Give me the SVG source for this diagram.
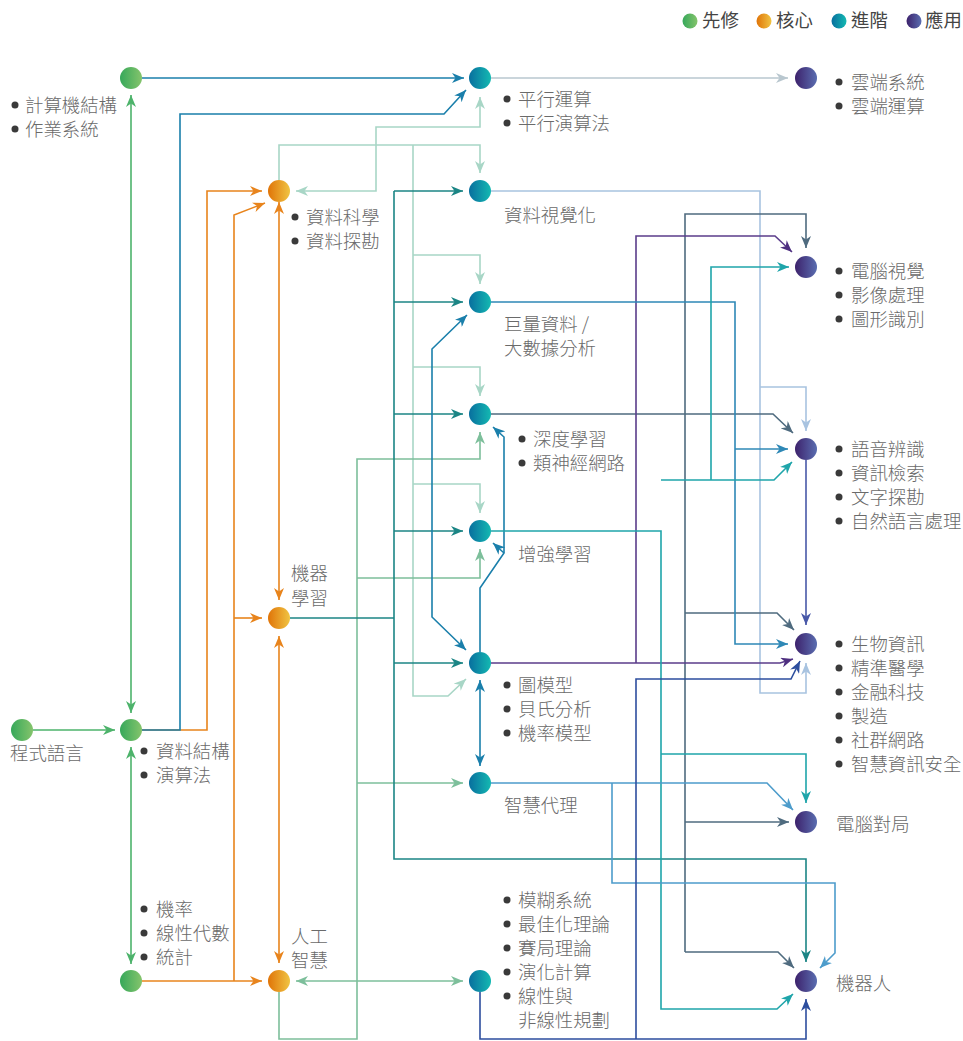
<svg xmlns="http://www.w3.org/2000/svg" width="963" height="1041" viewBox="0 0 963 1041">
  <defs>
    <linearGradient id="gGreen" x1="0" y1="0" x2="1" y2="0"><stop offset="0" stop-color="#36a85a"/><stop offset="1" stop-color="#85c46c"/></linearGradient>
    <linearGradient id="gOrange" x1="0" y1="0" x2="1" y2="0"><stop offset="0" stop-color="#e07408"/><stop offset="1" stop-color="#f0c443"/></linearGradient>
    <linearGradient id="gTeal" x1="0" y1="0" x2="1" y2="0"><stop offset="0" stop-color="#086f9e"/><stop offset="1" stop-color="#14b9b2"/></linearGradient>
    <linearGradient id="gPurple" x1="0" y1="0" x2="1" y2="0"><stop offset="0" stop-color="#3d226c"/><stop offset="1" stop-color="#5a6db0"/></linearGradient>
    <marker id="mGreen" viewBox="0 0 12 10" refX="12" refY="5" markerWidth="12" markerHeight="10" markerUnits="userSpaceOnUse" orient="auto-start-reverse"><path d="M0,0 L12,5 L0,10 L3.5,5 z" fill="#4db36b"/></marker>
    <marker id="mOrange" viewBox="0 0 12 10" refX="12" refY="5" markerWidth="12" markerHeight="10" markerUnits="userSpaceOnUse" orient="auto-start-reverse"><path d="M0,0 L12,5 L0,10 L3.5,5 z" fill="#e8841c"/></marker>
    <marker id="mBlue" viewBox="0 0 12 10" refX="12" refY="5" markerWidth="12" markerHeight="10" markerUnits="userSpaceOnUse" orient="auto-start-reverse"><path d="M0,0 L12,5 L0,10 L3.5,5 z" fill="#1a7fab"/></marker>
    <marker id="mMint" viewBox="0 0 12 10" refX="12" refY="5" markerWidth="12" markerHeight="10" markerUnits="userSpaceOnUse" orient="auto-start-reverse"><path d="M0,0 L12,5 L0,10 L3.5,5 z" fill="#a8d6c6"/></marker>
    <marker id="mDteal" viewBox="0 0 12 10" refX="12" refY="5" markerWidth="12" markerHeight="10" markerUnits="userSpaceOnUse" orient="auto-start-reverse"><path d="M0,0 L12,5 L0,10 L3.5,5 z" fill="#1b8585"/></marker>
    <marker id="mGmint" viewBox="0 0 12 10" refX="12" refY="5" markerWidth="12" markerHeight="10" markerUnits="userSpaceOnUse" orient="auto-start-reverse"><path d="M0,0 L12,5 L0,10 L3.5,5 z" fill="#7dbf9b"/></marker>
    <marker id="mGray" viewBox="0 0 12 10" refX="12" refY="5" markerWidth="12" markerHeight="10" markerUnits="userSpaceOnUse" orient="auto-start-reverse"><path d="M0,0 L12,5 L0,10 L3.5,5 z" fill="#b9c7cf"/></marker>
    <marker id="mLblue" viewBox="0 0 12 10" refX="12" refY="5" markerWidth="12" markerHeight="10" markerUnits="userSpaceOnUse" orient="auto-start-reverse"><path d="M0,0 L12,5 L0,10 L3.5,5 z" fill="#a8c3e0"/></marker>
    <marker id="mSlate" viewBox="0 0 12 10" refX="12" refY="5" markerWidth="12" markerHeight="10" markerUnits="userSpaceOnUse" orient="auto-start-reverse"><path d="M0,0 L12,5 L0,10 L3.5,5 z" fill="#4f6b7f"/></marker>
    <marker id="mPurple" viewBox="0 0 12 10" refX="12" refY="5" markerWidth="12" markerHeight="10" markerUnits="userSpaceOnUse" orient="auto-start-reverse"><path d="M0,0 L12,5 L0,10 L3.5,5 z" fill="#4e2f80"/></marker>
    <marker id="mMblue" viewBox="0 0 12 10" refX="12" refY="5" markerWidth="12" markerHeight="10" markerUnits="userSpaceOnUse" orient="auto-start-reverse"><path d="M0,0 L12,5 L0,10 L3.5,5 z" fill="#2e88b6"/></marker>
    <marker id="mTeal" viewBox="0 0 12 10" refX="12" refY="5" markerWidth="12" markerHeight="10" markerUnits="userSpaceOnUse" orient="auto-start-reverse"><path d="M0,0 L12,5 L0,10 L3.5,5 z" fill="#1fa5aa"/></marker>
    <marker id="mIndigo" viewBox="0 0 12 10" refX="12" refY="5" markerWidth="12" markerHeight="10" markerUnits="userSpaceOnUse" orient="auto-start-reverse"><path d="M0,0 L12,5 L0,10 L3.5,5 z" fill="#4858a8"/></marker>
    <marker id="mSky" viewBox="0 0 12 10" refX="12" refY="5" markerWidth="12" markerHeight="10" markerUnits="userSpaceOnUse" orient="auto-start-reverse"><path d="M0,0 L12,5 L0,10 L3.5,5 z" fill="#4d9ccb"/></marker>
    <marker id="mNavy" viewBox="0 0 12 10" refX="12" refY="5" markerWidth="12" markerHeight="10" markerUnits="userSpaceOnUse" orient="auto-start-reverse"><path d="M0,0 L12,5 L0,10 L3.5,5 z" fill="#2d4e9e"/></marker>
  </defs>
  <style>
    .t { font-family: "Noto Sans CJK TC", "Noto Sans CJK SC", sans-serif; font-size: 18.4px; font-weight: 300; fill: #6a6a6a; }
    .lg { font-family: "Noto Sans CJK TC", "Noto Sans CJK SC", sans-serif; font-size: 18.4px; fill: #444444; }
    .b { fill: #3a3a3a; }
    .c { fill: none; stroke-width: 1.6; stroke-linejoin: miter; }
    .green { stroke: #4db36b; }
    .orange { stroke: #e8841c; }
    .blue { stroke: #1a7fab; }
    .mint { stroke: #a8d6c6; }
    .dteal { stroke: #1b8585; }
    .gmint { stroke: #7dbf9b; }
    .gray { stroke: #b9c7cf; }
    .lblue { stroke: #a8c3e0; }
    .slate { stroke: #4f6b7f; }
    .purple { stroke: #5b3d8b; }
    .mblue { stroke: #2e88b6; }
    .teal { stroke: #1fa5aa; }
    .indigo { stroke: #4858a8; }
    .sky { stroke: #4d9ccb; }
    .navy { stroke: #2d4e9e; }
  </style>
  <rect width="963" height="1041" fill="#ffffff"/>

  <!-- legend -->
  <g id="legend">
    <circle cx="690" cy="21" r="7.5" fill="url(#gGreen)"/>
    <text class="lg" x="702" y="27">先修</text>
    <circle cx="764" cy="21" r="7.5" fill="url(#gOrange)"/>
    <text class="lg" x="776" y="27">核心</text>
    <circle cx="839" cy="21" r="7.5" fill="url(#gTeal)"/>
    <text class="lg" x="851" y="27">進階</text>
    <circle cx="914" cy="21" r="7.5" fill="url(#gPurple)"/>
    <text class="lg" x="925" y="27">應用</text>
  </g>

  <!-- connectors -->
  <g id="connectors">
    <!-- light tones underneath -->
    <path class="c gray" d="M491,78 H788" marker-end="url(#mGray)"/>
    <path class="c lblue" d="M491,191 H760 V693 H806 V663" marker-end="url(#mLblue)"/>
    <path class="c lblue" d="M760,387 H806 V431" marker-end="url(#mLblue)"/>

    <path class="c mint" d="M296,191 H376 V127 H480 V97" marker-start="url(#mMint)" marker-end="url(#mMint)"/>
    <path class="c mint" d="M279,180 V145 H480 V173" marker-end="url(#mMint)"/>
    <path class="c mint" d="M413,145 V696 H448 L466,679" marker-end="url(#mMint)"/>
    <path class="c mint" d="M413,255 H480 V284" marker-end="url(#mMint)"/>
    <path class="c mint" d="M413,367 H480 V396" marker-end="url(#mMint)"/>
    <path class="c mint" d="M413,484 H480 V513" marker-end="url(#mMint)"/>

    <path class="c gmint" d="M296,981 H463" marker-start="url(#mGmint)" marker-end="url(#mGmint)"/>
    <path class="c gmint" d="M279,992 V1039 H357 V459 H480 V432" marker-end="url(#mGmint)"/>
    <path class="c gmint" d="M357,578 H480 V549" marker-end="url(#mGmint)"/>
    <path class="c gmint" d="M357,783 H463" marker-end="url(#mGmint)"/>

    <!-- prerequisites -->
    <path class="c green" d="M33,730 H115" marker-end="url(#mGreen)"/>
    <path class="c green" d="M131,95 V713" marker-start="url(#mGreen)" marker-end="url(#mGreen)"/>
    <path class="c green" d="M131,747 V964" marker-start="url(#mGreen)" marker-end="url(#mGreen)"/>

    <!-- core -->
    <path class="c orange" d="M142,730 H207 V191 H262" marker-end="url(#mOrange)"/>
    <path class="c orange" d="M142,981 H262" marker-end="url(#mOrange)"/>
    <path class="c orange" d="M234,981 V215 L265,203" marker-end="url(#mOrange)"/>
    <path class="c orange" d="M234,618 H262" marker-end="url(#mOrange)"/>
    <path class="c orange" d="M279,202 V600" marker-start="url(#mOrange)" marker-end="url(#mOrange)"/>
    <path class="c orange" d="M279,636 V963" marker-start="url(#mOrange)" marker-end="url(#mOrange)"/>

    <!-- machine learning bus -->
    <path class="c dteal" d="M290,618 H394"/>
    <path class="c dteal" d="M394,191 V859 H806 V962" marker-end="url(#mDteal)"/>
    <path class="c dteal" d="M394,191 H463" marker-end="url(#mDteal)"/>
    <path class="c dteal" d="M394,302 H463" marker-end="url(#mDteal)"/>
    <path class="c dteal" d="M394,414 H463" marker-end="url(#mDteal)"/>
    <path class="c dteal" d="M394,531 H463" marker-end="url(#mDteal)"/>
    <path class="c dteal" d="M394,663 H463" marker-end="url(#mDteal)"/>

    <!-- blue links -->
    <path class="c blue" d="M142,78 H464" marker-end="url(#mBlue)"/>
    <path class="c blue" d="M142,730 H180 V114 H444 L466,90" marker-end="url(#mBlue)"/>
    <path class="c blue" d="M467,315 L432,349 V617 L466,650" marker-start="url(#mBlue)" marker-end="url(#mBlue)"/>
    <path class="c blue" d="M480,652 V588 L504,553 V437 L493,427" marker-end="url(#mBlue)"/>
    <path class="c blue" d="M504,553 L493,543" marker-end="url(#mBlue)"/>
    <path class="c blue" d="M480,680 V766" marker-start="url(#mBlue)" marker-end="url(#mBlue)"/>

    <!-- applications -->
    <path class="c slate" d="M491,414 H773 L793,433" marker-end="url(#mSlate)"/>
    <path class="c slate" d="M685,952 V214 H806 V248" marker-end="url(#mSlate)"/>
    <path class="c slate" d="M685,613 H777 L794,630" marker-end="url(#mSlate)"/>
    <path class="c slate" d="M685,822 H789" marker-end="url(#mSlate)"/>
    <path class="c slate" d="M685,952 H778 L794,968" marker-end="url(#mSlate)"/>

    <path class="c purple" d="M491,663 H780 L793,659" marker-end="url(#mPurple)"/>
    <path class="c purple" d="M636,663 V236 H775 L792,252" marker-end="url(#mPurple)"/>

    <path class="c mblue" d="M491,302 H735 V644 H788" marker-end="url(#mMblue)"/>
    <path class="c mblue" d="M735,449 H788" marker-end="url(#mMblue)"/>

    <path class="c teal" d="M491,531 H661 V1009 H777 L793,994" marker-end="url(#mTeal)"/>
    <path class="c teal" d="M661,480 H774 L792,462" marker-end="url(#mTeal)"/>
    <path class="c teal" d="M711,480 V267 H789" marker-end="url(#mTeal)"/>
    <path class="c teal" d="M661,754 H806 V803" marker-end="url(#mTeal)"/>

    <path class="c indigo" d="M806,460 V625" marker-end="url(#mIndigo)"/>

    <path class="c sky" d="M491,783 H767 L793,810" marker-end="url(#mSky)"/>
    <path class="c sky" d="M612,783 V883 H835 V953 L820,968" marker-end="url(#mSky)"/>

    <path class="c navy" d="M480,992 V1039 H806 V999" marker-end="url(#mNavy)"/>
    <path class="c navy" d="M636,1039 V679 H791 L800,661" marker-end="url(#mNavy)"/>
  </g>

  <!-- prerequisite nodes -->
  <g id="node-arch">
    <circle cx="131" cy="78" r="11" fill="url(#gGreen)"/>
    <circle class="b" cx="15" cy="105" r="3.5"/><text class="t" x="25" y="112">計算機結構</text>
    <circle class="b" cx="15" cy="129" r="3.5"/><text class="t" x="25" y="136">作業系統</text>
  </g>
  <g id="node-prog">
    <circle cx="22" cy="730" r="11" fill="url(#gGreen)"/>
    <text class="t" x="10" y="760">程式語言</text>
  </g>
  <g id="node-ds">
    <circle cx="131" cy="730" r="11" fill="url(#gGreen)"/>
    <circle class="b" cx="144" cy="751" r="3.5"/><text class="t" x="156" y="758">資料結構</text>
    <circle class="b" cx="144" cy="775" r="3.5"/><text class="t" x="156" y="782">演算法</text>
  </g>
  <g id="node-math">
    <circle cx="131" cy="981" r="11" fill="url(#gGreen)"/>
    <circle class="b" cx="144" cy="909" r="3.5"/><text class="t" x="156" y="916">機率</text>
    <circle class="b" cx="144" cy="933" r="3.5"/><text class="t" x="156" y="940">線性代數</text>
    <circle class="b" cx="144" cy="957" r="3.5"/><text class="t" x="156" y="964">統計</text>
  </g>

  <!-- core nodes -->
  <g id="node-datasci">
    <circle cx="279" cy="191" r="11" fill="url(#gOrange)"/>
    <circle class="b" cx="295" cy="217" r="3.5"/><text class="t" x="306" y="224">資料科學</text>
    <circle class="b" cx="295" cy="241" r="3.5"/><text class="t" x="306" y="248">資料探勘</text>
  </g>
  <g id="node-ml">
    <circle cx="279" cy="618" r="11" fill="url(#gOrange)"/>
    <text class="t" x="291" y="580">機器</text>
    <text class="t" x="291" y="605">學習</text>
  </g>
  <g id="node-ai">
    <circle cx="279" cy="981" r="11" fill="url(#gOrange)"/>
    <text class="t" x="291" y="943">人工</text>
    <text class="t" x="291" y="967">智慧</text>
  </g>

  <!-- advanced nodes -->
  <g id="node-parallel">
    <circle cx="480" cy="78" r="11" fill="url(#gTeal)"/>
    <circle class="b" cx="507" cy="99" r="3.5"/><text class="t" x="518" y="106">平行運算</text>
    <circle class="b" cx="507" cy="123" r="3.5"/><text class="t" x="518" y="130">平行演算法</text>
  </g>
  <g id="node-vis">
    <circle cx="480" cy="191" r="11" fill="url(#gTeal)"/>
    <text class="t" x="504" y="222">資料視覺化</text>
  </g>
  <g id="node-bigdata">
    <circle cx="480" cy="302" r="11" fill="url(#gTeal)"/>
    <text class="t" x="504" y="331">巨量資料 /</text>
    <text class="t" x="504" y="355">大數據分析</text>
  </g>
  <g id="node-dl">
    <circle cx="480" cy="414" r="11" fill="url(#gTeal)"/>
    <circle class="b" cx="522" cy="439" r="3.5"/><text class="t" x="533" y="446">深度學習</text>
    <circle class="b" cx="522" cy="463" r="3.5"/><text class="t" x="533" y="470">類神經網路</text>
  </g>
  <g id="node-rl">
    <circle cx="480" cy="531" r="11" fill="url(#gTeal)"/>
    <text class="t" x="518" y="561">增強學習</text>
  </g>
  <g id="node-graph">
    <circle cx="480" cy="663" r="11" fill="url(#gTeal)"/>
    <circle class="b" cx="507" cy="685" r="3.5"/><text class="t" x="518" y="692">圖模型</text>
    <circle class="b" cx="507" cy="709" r="3.5"/><text class="t" x="518" y="716">貝氏分析</text>
    <circle class="b" cx="507" cy="733" r="3.5"/><text class="t" x="518" y="740">機率模型</text>
  </g>
  <g id="node-agent">
    <circle cx="480" cy="783" r="11" fill="url(#gTeal)"/>
    <text class="t" x="504" y="812">智慧代理</text>
  </g>
  <g id="node-opt">
    <circle cx="480" cy="981" r="11" fill="url(#gTeal)"/>
    <circle class="b" cx="507" cy="900" r="3.5"/><text class="t" x="518" y="907">模糊系統</text>
    <circle class="b" cx="507" cy="924" r="3.5"/><text class="t" x="518" y="931">最佳化理論</text>
    <circle class="b" cx="507" cy="948" r="3.5"/><text class="t" x="518" y="955">賽局理論</text>
    <circle class="b" cx="507" cy="972" r="3.5"/><text class="t" x="518" y="979">演化計算</text>
    <circle class="b" cx="507" cy="996" r="3.5"/><text class="t" x="518" y="1003">線性與</text>
    <text class="t" x="518" y="1027">非線性規劃</text>
  </g>

  <!-- application nodes -->
  <g id="node-cloud">
    <circle cx="806" cy="78" r="11" fill="url(#gPurple)"/>
    <circle class="b" cx="839" cy="82" r="3.5"/><text class="t" x="851" y="89">雲端系統</text>
    <circle class="b" cx="839" cy="106" r="3.5"/><text class="t" x="851" y="113">雲端運算</text>
  </g>
  <g id="node-cv">
    <circle cx="806" cy="267" r="11" fill="url(#gPurple)"/>
    <circle class="b" cx="839" cy="271" r="3.5"/><text class="t" x="851" y="278">電腦視覺</text>
    <circle class="b" cx="839" cy="295" r="3.5"/><text class="t" x="851" y="302">影像處理</text>
    <circle class="b" cx="839" cy="319" r="3.5"/><text class="t" x="851" y="326">圖形識別</text>
  </g>
  <g id="node-nlp">
    <circle cx="806" cy="449" r="11" fill="url(#gPurple)"/>
    <circle class="b" cx="839" cy="449" r="3.5"/><text class="t" x="851" y="456">語音辨識</text>
    <circle class="b" cx="839" cy="473" r="3.5"/><text class="t" x="851" y="480">資訊檢索</text>
    <circle class="b" cx="839" cy="497" r="3.5"/><text class="t" x="851" y="504">文字探勘</text>
    <circle class="b" cx="839" cy="521" r="3.5"/><text class="t" x="851" y="528">自然語言處理</text>
  </g>
  <g id="node-bio">
    <circle cx="806" cy="644" r="11" fill="url(#gPurple)"/>
    <circle class="b" cx="839" cy="644" r="3.5"/><text class="t" x="851" y="651">生物資訊</text>
    <circle class="b" cx="839" cy="668" r="3.5"/><text class="t" x="851" y="675">精準醫學</text>
    <circle class="b" cx="839" cy="692" r="3.5"/><text class="t" x="851" y="699">金融科技</text>
    <circle class="b" cx="839" cy="716" r="3.5"/><text class="t" x="851" y="723">製造</text>
    <circle class="b" cx="839" cy="740" r="3.5"/><text class="t" x="851" y="747">社群網路</text>
    <circle class="b" cx="839" cy="764" r="3.5"/><text class="t" x="851" y="771">智慧資訊安全</text>
  </g>
  <g id="node-game">
    <circle cx="806" cy="822" r="11" fill="url(#gPurple)"/>
    <text class="t" x="836" y="831">電腦對局</text>
  </g>
  <g id="node-robot">
    <circle cx="806" cy="981" r="11" fill="url(#gPurple)"/>
    <text class="t" x="836" y="990">機器人</text>
  </g>
</svg>
